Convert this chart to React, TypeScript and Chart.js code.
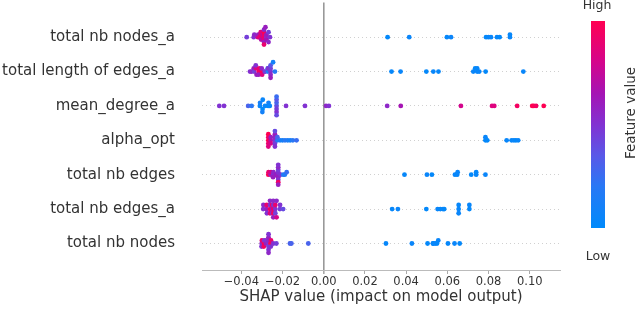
import React, { useEffect, useRef } from "react";
import { Chart, registerables } from "chart.js";
Chart.register(...registerables);

const FONT = "DejaVu Sans";

// Features listed bottom -> top
const features = [
  "total nb nodes",
  "total nb edges_a",
  "total nb edges",
  "alpha_opt",
  "mean_degree_a",
  "total length of edges_a",
  "total nb nodes_a",
];

// SHAP values and normalised feature values (0 = low, 1 = high) for each feature
const shapNodesA = [
  -0.0374, -0.034, -0.0337, -0.032, -0.0318, -0.0312, -0.0305, -0.0304, -0.0306, -0.0295, -0.0295,
  -0.029, -0.029, -0.029, -0.029, -0.029, -0.029, -0.029, -0.0283, -0.0278, -0.0278, -0.0278,
  -0.0268, -0.0268, -0.0261,
  0.031, 0.0415, 0.0598, 0.0618, 0.0788, 0.08, 0.0812, 0.0841, 0.0854, 0.0904, 0.0904,
];
const featNodesA = [
  0.45, 0.5, 0.55, 0.8, 0.6, 0.9, 0.9, 0.7, 0.85, 0.8, 0.7,
  0.95, 0.9, 0.85, 1.0, 0.6, 0.55, 0.9, 0.6, 0.5, 0.6, 0.65,
  0.45, 0.55, 0.5,
  0.02, 0.05, 0.03, 0.06, 0.02, 0.04, 0.05, 0.03, 0.02, 0.05, 0.03,
];

const shapLengthA = [
  -0.0358, -0.035, -0.034, -0.0338, -0.0328, -0.0326, -0.033, -0.0315, -0.0313, -0.0316,
  -0.03, -0.0301, -0.0299, -0.0285, -0.0286, -0.0272, -0.0271, -0.027,
  -0.0258, -0.0258, -0.0258, -0.0258, -0.0258, -0.0246, -0.0237,
  0.0329, 0.0373, 0.0498, 0.0532, 0.0557, 0.0726, 0.0735, 0.0745, 0.0745, 0.0755, 0.0786, 0.0969,
];
const featLengthA = [
  0.5, 0.55, 0.6, 0.45, 0.85, 0.6, 0.5, 0.95, 0.9, 0.6,
  1.0, 0.55, 0.85, 0.5, 0.45, 0.2, 0.15, 0.5,
  0.5, 0.45, 0.55, 0.35, 0.6, 0.1, 0.2,
  0.03, 0.05, 0.02, 0.04, 0.03, 0.05, 0.02, 0.04, 0.03, 0.05, 0.02, 0.04,
];

const shapDegreeA = [
  -0.0507, -0.0484, -0.0367, -0.035, -0.031, -0.0309, -0.0297, -0.0296, -0.0298, -0.0285,
  -0.027, -0.0268, -0.0262,
  -0.0229, -0.0229, -0.0229, -0.0229, -0.0229, -0.0229, -0.0229,
  -0.0183, -0.0091, 0.0011, 0.0025,
  0.0308, 0.0374, 0.0666, 0.0817, 0.0828, 0.0939, 0.1012, 0.102, 0.1031, 0.1068,
];
const featDegreeA = [
  0.5, 0.5, 0.3, 0.2, 0.05, 0.1, 0.0, 0.05, 0.1, 0.05,
  0.0, 0.1, 0.05,
  0.4, 0.3, 0.45, 0.35, 0.5, 0.25, 0.4,
  0.5, 0.5, 0.55, 0.5,
  0.55, 0.65, 0.8, 0.85, 0.85, 0.95, 1.0, 1.0, 0.95, 1.0,
];

const shapAlpha = [
  -0.0269, -0.0269, -0.0269, -0.0269, -0.0269, -0.0257, -0.0257, -0.0257,
  -0.0237, -0.0237, -0.0237, -0.0237, -0.0237, -0.0237, -0.0225, -0.0225,
  -0.0212, -0.02, -0.0188, -0.0175, -0.0163, -0.015, -0.0132,
  0.0785, 0.0785, 0.0794, 0.0888, 0.0912, 0.0923, 0.0933, 0.0944,
];
const featAlpha = [
  1.0, 0.95, 0.9, 1.0, 0.85, 0.7, 0.6, 0.8,
  0.5, 0.55, 0.45, 0.6, 0.5, 0.4, 0.2, 0.3,
  0.15, 0.1, 0.2, 0.15, 0.1, 0.2, 0.25,
  0.03, 0.05, 0.02, 0.04, 0.03, 0.05, 0.02, 0.04,
];

const shapEdges = [
  -0.0269, -0.0268, -0.0258, -0.0256, -0.0245, -0.0244, -0.0246, -0.0233, -0.0232,
  -0.0221, -0.0221, -0.0221, -0.0221, -0.0221, -0.0221, -0.0221, -0.0221, -0.0221,
  -0.021, -0.0197, -0.0189, -0.018,
  0.0392, 0.0501, 0.0525, 0.0637, 0.0648, 0.065, 0.0716, 0.074, 0.074, 0.0785,
];
const featEdges = [
  1.0, 0.9, 0.6, 0.8, 0.5, 0.55, 0.6, 0.5, 0.6,
  0.55, 0.5, 0.6, 0.45, 0.5, 0.55, 0.95, 0.5, 0.6,
  0.5, 0.2, 0.15, 0.25,
  0.03, 0.05, 0.02, 0.04, 0.03, 0.05, 0.02, 0.04, 0.03, 0.05,
];

const shapEdgesA = [
  -0.0294, -0.0293, -0.0278, -0.0277, -0.0276, -0.0261, -0.0261, -0.0261, -0.0261,
  -0.025, -0.025, -0.025, -0.0245, -0.0245, -0.0245, -0.0245, -0.0245,
  -0.0235, -0.0235, -0.0235, -0.0229, -0.0229, -0.0213, -0.0212, -0.0197,
  0.0332, 0.036, 0.0498, 0.0553, 0.0566, 0.0579, 0.0585, 0.0655, 0.0655, 0.0655, 0.0707, 0.0707,
];
const featEdgesA = [
  0.5, 0.55, 0.6, 0.9, 0.5, 0.95, 0.5, 0.85, 0.55,
  0.6, 1.0, 0.5, 0.9, 0.5, 0.95, 0.55, 0.6,
  0.5, 0.9, 0.45, 0.55, 0.8, 0.45, 0.5, 0.4,
  0.03, 0.05, 0.02, 0.04, 0.03, 0.05, 0.02, 0.04, 0.03, 0.05, 0.02, 0.04,
];

const shapNodes = [
  -0.0301, -0.03, -0.0302, -0.029, -0.0289, -0.0291, -0.028, -0.0279,
  -0.0268, -0.0268, -0.0268, -0.0268, -0.0268, -0.0268, -0.0268,
  -0.0258, -0.0256, -0.0257, -0.0245, -0.023, -0.0164, -0.0157, -0.0075,
  0.0302, 0.0428, 0.0504, 0.053, 0.0532, 0.0541, 0.055, 0.0556, 0.0603, 0.0635, 0.066,
];
const featNodes = [
  0.55, 0.9, 0.5, 1.0, 0.5, 0.95, 0.6, 0.5,
  0.5, 0.55, 0.45, 0.6, 0.5, 0.5, 0.55,
  1.0, 0.9, 0.5, 0.5, 0.45, 0.3, 0.3, 0.3,
  0.03, 0.05, 0.02, 0.04, 0.03, 0.05, 0.02, 0.04, 0.03, 0.05, 0.02,
];

// bottom -> top, same order as `features`
const rowShap = [shapNodes, shapEdgesA, shapEdges, shapAlpha, shapDegreeA, shapLengthA, shapNodesA];
const rowFeat = [featNodes, featEdgesA, featEdges, featAlpha, featDegreeA, featLengthA, featNodesA];

const xTicks = [-0.04, -0.02, 0, 0.02, 0.04, 0.06, 0.08, 0.1];
const xMin = -0.0591;
const xMax = 0.1147;

const colorStops: [number, number[]][] = [
  [0, [0, 138, 251]],
  [0.2, [40, 120, 245]],
  [0.35, [90, 88, 232]],
  [0.5, [130, 50, 210]],
  [0.65, [165, 20, 180]],
  [0.8, [212, 5, 140]],
  [1, [255, 0, 82]],
];

function colorFor(t: number): string {
  const v = Math.max(0, Math.min(1, t));
  for (let i = 1; i < colorStops.length; i++) {
    const [p1, c1] = colorStops[i];
    const [p0, c0] = colorStops[i - 1];
    if (v <= p1) {
      const f = (v - p0) / (p1 - p0);
      const c = c0.map((a, k) => Math.round(a + (c1[k] - a) * f));
      return `rgb(${c[0]},${c[1]},${c[2]})`;
    }
  }
  const c = colorStops[colorStops.length - 1][1];
  return `rgb(${c[0]},${c[1]},${c[2]})`;
}

// SHAP-style beeswarm offsets computed from the values
function swarm(vals: number[]): number[] {
  const n = vals.length;
  const mn = Math.min(...vals);
  const mx = Math.max(...vals);
  const quant = vals.map((v) => Math.round((100 * (v - mn)) / (mx - mn + 1e-8)));
  const order = vals.map((_, i) => i).sort((a, b) => quant[a] - quant[b] || a - b);
  const ys = new Array(n).fill(0);
  let layer = 0;
  let last = -1;
  for (const ind of order) {
    if (quant[ind] !== last) layer = 0;
    ys[ind] = Math.ceil(layer / 2) * ((layer % 2) * 2 - 1);
    layer++;
    last = quant[ind];
  }
  const m = Math.max(...ys.map((y) => y + 1));
  const s = (0.9 * 0.4) / m;
  return ys.map((y) => y * s);
}

function fmtTick(v: number): string {
  const s = Math.abs(v).toFixed(2);
  return v < -1e-9 ? "\u2212" + s : s;
}

const colorbarPlugin = {
  id: "colorbar",
  afterDraw(chart: any) {
    const ctx = chart.ctx as CanvasRenderingContext2D;
    const x0 = 591, x1 = 605, y0 = 21, y1 = 228;
    ctx.save();
    const g = ctx.createLinearGradient(0, y1, 0, y0);
    colorStops.forEach(([p, c]) => g.addColorStop(p, `rgb(${c[0]},${c[1]},${c[2]})`));
    ctx.fillStyle = g;
    ctx.fillRect(x0, y0, x1 - x0, y1 - y0);
    ctx.fillStyle = "#333";
    ctx.font = `12.5px "${FONT}"`;
    ctx.textAlign = "center";
    ctx.textBaseline = "middle";
    ctx.fillText("High", 597, 6);
    ctx.fillText("Low", 598, 257);
    ctx.font = `13.5px "${FONT}"`;
    ctx.translate(631, 113);
    ctx.rotate(-Math.PI / 2);
    ctx.fillText("Feature value", 0, 0);
    ctx.restore();
  },
};

export default function App() {
  const ref = useRef<HTMLCanvasElement | null>(null);
  useEffect(() => {
    if (!ref.current) return;
    const datasets = rowShap.map((vals, r) => {
      const offs = swarm(vals);
      return {
        label: features[r],
        data: vals.map((v, i) => ({ x: v, y: r + offs[i] })),
        pointBackgroundColor: rowFeat[r].map(colorFor),
        pointBorderWidth: 0,
        pointRadius: 2.4,
        pointHoverRadius: 2.4,
      };
    });
    const chart = new Chart(ref.current, {
      type: "scatter",
      data: { datasets },
      plugins: [colorbarPlugin],
      options: {
        animation: false,
        responsive: false,
        layout: { padding: { left: 0, right: 80, top: 0, bottom: 0 } },
        plugins: { legend: { display: false }, tooltip: { enabled: false } },
        scales: {
          x: {
            type: "linear",
            min: xMin,
            max: xMax,
            afterBuildTicks: (s: any) => {
              s.ticks = xTicks.map((v) => ({ value: v }));
            },
            afterFit: (s: any) => {
              s.height = 40;
              s.paddingLeft = 0;
              s.paddingRight = 0;
            },
            grid: {
              color: (c: any) => (c.tick && Math.abs(c.tick.value) < 1e-12 ? "#999999" : "rgba(0,0,0,0)"),
              lineWidth: (c: any) => (c.tick && Math.abs(c.tick.value) < 1e-12 ? 1.6 : 1),
              tickColor: "#aaaaaa",
              tickLength: 4,
              drawTicks: true,
            },
            border: { display: true, color: "#bbbbbb", width: 1 },
            ticks: {
              font: { family: FONT, size: 11.5 },
              color: "#333333",
              padding: 1,
              maxRotation: 0,
              autoSkip: false,
              callback: (v: any) => fmtTick(Number(v)),
            },
            title: {
              display: true,
              text: "SHAP value (impact on model output)",
              font: { family: FONT, size: 15 },
              color: "#333333",
              padding: { top: 0, bottom: 4 },
            },
          },
          y: {
            type: "linear",
            min: -0.77,
            max: 7.01,
            afterBuildTicks: (s: any) => {
              s.ticks = features.map((_, i) => ({ value: i }));
            },
            afterFit: (s: any) => {
              s.width = 202;
              s.paddingTop = 0;
              s.paddingBottom = 0;
            },
            grid: { color: "#d0d0d0", lineWidth: 1, drawTicks: false },
            border: { display: false, dash: [1, 3] },
            ticks: {
              font: { family: FONT, size: 15 },
              color: "#333333",
              padding: 27,
              autoSkip: false,
              callback: (v: any) => features[Math.round(Number(v))] ?? "",
            },
          },
        },
      } as any,
    });
    return () => chart.destroy();
  }, []);
  return (
    <div style={{ position: "absolute", left: 0, top: 0, width: 640, height: 310, background: "#fff" }}>
      <canvas ref={ref} width={640} height={310} style={{ display: "block" }} />
    </div>
  );
}
